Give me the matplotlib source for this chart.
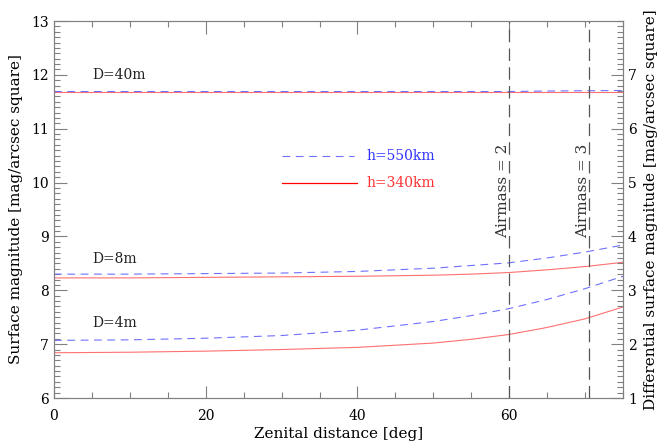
import matplotlib
matplotlib.use('Agg')
import matplotlib.pyplot as plt
import numpy as np
from matplotlib.ticker import MultipleLocator

plt.rcParams['font.family'] = ['DejaVu Serif']
plt.rcParams['font.size'] = 10

# zenith distance grid [deg]
z = [0, 10, 20, 30, 40, 50, 55, 60, 65, 70, 75]

# surface magnitude
d40_550 = [11.69, 11.69, 11.69, 11.69, 11.69, 11.69, 11.69, 11.69, 11.70, 11.705, 11.71]
d40_340 = [11.69, 11.69, 11.69, 11.69, 11.69, 11.69, 11.69, 11.69, 11.69, 11.69, 11.69]
d8_550 = [8.30, 8.30, 8.31, 8.32, 8.35, 8.41, 8.46, 8.51, 8.60, 8.71, 8.84]
d8_340 = [8.23, 8.23, 8.24, 8.25, 8.26, 8.28, 8.30, 8.33, 8.38, 8.44, 8.52]
d4_550 = [7.07, 7.08, 7.11, 7.16, 7.26, 7.42, 7.53, 7.66, 7.83, 8.03, 8.26]
d4_340 = [6.84, 6.85, 6.87, 6.90, 6.94, 7.02, 7.09, 7.18, 7.31, 7.47, 7.69]

airmass = [2, 3]
labels_D = ['D=40m', 'D=8m', 'D=4m']
label_y = [12.0, 8.59, 7.39]

blue = '#7070ff'
red = '#ff7070'
grey = '#808080'

fig = plt.figure(figsize=(6.6, 4.44), dpi=100)
ax = fig.add_axes([54/660, 1-398/444, (623-54)/660, (398-21)/444])

for y550, y340 in [(d40_550, d40_340), (d8_550, d8_340), (d4_550, d4_340)]:
    ax.plot(z, y340, color=red, lw=0.8)
    ax.plot(z, y550, color=blue, lw=0.8, dashes=(7, 5))

for am in airmass:
    za = np.degrees(np.arccos(1.0 / am))
    ax.axvline(za, color='#555555', lw=0.9, dashes=(10, 5))
    ax.text(za - 0.75, 8.98, 'Airmass = %d' % am, rotation=90,
            ha='center', va='bottom', color='#333333', fontsize=11)

for lab, yy in zip(labels_D, label_y):
    ax.text(5, yy, lab, ha='left', va='center', color='#222222')

# legend drawn by hand
ax.plot([30, 39.5], [10.49, 10.49], color=blue, lw=0.8, dashes=(7, 5))
ax.plot([30, 40], [10.0, 10.0], color='red', lw=0.9)
ax.text(41.2, 10.49, 'h=550km', color='#3333ff', va='center', ha='left')
ax.text(41.2, 10.0, 'h=340km', color='#ff3333', va='center', ha='left')

ax.set_xlim(0, 75)
ax.set_ylim(6, 13)
ax.xaxis.set_major_locator(MultipleLocator(20))
ax.xaxis.set_minor_locator(MultipleLocator(5))
ax.yaxis.set_major_locator(MultipleLocator(1))
ax.yaxis.set_minor_locator(MultipleLocator(0.1))
ax.tick_params(which='both', direction='in', top=True, color=grey)
ax.tick_params(which='major', length=9, width=0.8)
ax.tick_params(which='minor', length=4, width=0.8)
ax.tick_params(axis='x', pad=8)
for s in ax.spines.values():
    s.set_color(grey)
ax.set_xlabel('Zenital distance [deg]', labelpad=3, fontsize=11)
ax.set_ylabel('Surface magnitude [mag/arcsec square]', labelpad=6, fontsize=11)

ax2 = ax.twinx()
ax2.set_ylim(1, 8)
ax2.yaxis.set_major_locator(MultipleLocator(1))
ax2.yaxis.set_minor_locator(MultipleLocator(0.1))
ax2.tick_params(which='both', direction='in', color=grey)
ax2.tick_params(which='major', length=9, width=0.8)
ax2.tick_params(which='minor', length=4, width=0.8)
ax2.set_yticks([1, 2, 3, 4, 5, 6, 7])
for s in ax2.spines.values():
    s.set_color(grey)
ax2.set_ylabel('Differential surface magnitude [mag/arcsec square]', rotation=90,
               labelpad=5, fontsize=11)

fig.savefig('out.png', dpi=100)
